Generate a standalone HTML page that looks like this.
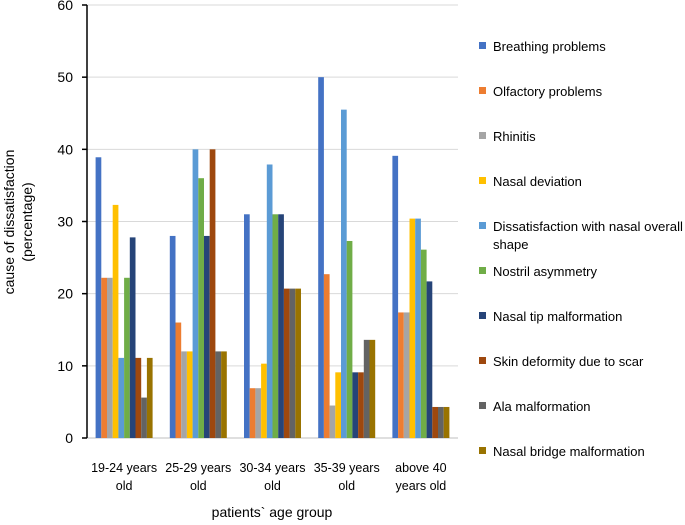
<!DOCTYPE html>
<html><head><meta charset="utf-8"><style>
body{margin:0;background:#fff;font-family:"Liberation Sans",sans-serif;}
svg text{font-family:"Liberation Sans",sans-serif;fill:#000;}
</style></head><body>
<svg id="c" width="685" height="520"></svg>
<script>
const categories=[["19-24 years","old"],["25-29 years","old"],["30-34 years","old"],["35-39 years","old"],["above 40","years old"]];
const seriesNames=["Breathing problems","Olfactory problems","Rhinitis","Nasal deviation","Dissatisfaction with nasal overall shape","Nostril asymmetry","Nasal tip malformation","Skin deformity due to scar","Ala malformation","Nasal bridge malformation"];
const colors=["#4472C4","#ED7D31","#A5A5A5","#FFC000","#5B9BD5","#70AD47","#264478","#9E480E","#636363","#997300"];
const values=[
[38.9,28,31,50,39.1],
[22.2,16,6.9,22.7,17.4],
[22.2,12,6.9,4.5,17.4],
[32.3,12,10.3,9.1,30.4],
[11.1,40,37.9,45.5,30.4],
[22.2,36,31,27.3,26.1],
[27.8,28,31,9.1,21.7],
[11.1,40,20.7,9.1,4.3],
[5.6,12,20.7,13.6,4.3],
[11.1,12,20.7,13.6,4.3]];
const yTicks=[0,10,20,30,40,50,60];
const NS="http://www.w3.org/2000/svg";
const svg=document.getElementById('c');
const x0=87,x1=458,yb=438,yt=5;
const y=v=>yb-(v/60)*(yb-yt);
const gw=(x1-x0)/categories.length,bw=5.7;
function mk(t,a,p){const e=document.createElementNS(NS,t);for(const k in a)e.setAttribute(k,a[k]);(p||svg).appendChild(e);return e;}
yTicks.forEach(t=>{
 const g=mk('line',{x1:x0,x2:x1,y1:y(t),y2:y(t),stroke:t===0?'#bfbfbf':'#d9d9d9','stroke-width':1});
 
 
 const tk=mk('line',{x1:x0-5,x2:x0,y1:y(t),y2:y(t),stroke:'#000','stroke-width':1.5});
 
 
 const l=mk('text',{x:73,y:y(t)+5,'text-anchor':'end','font-size':14});
 l.textContent=t;
 
 
});
const ax=mk('line',{x1:x0,x2:x0,y1:yt,y2:yb,stroke:'#000','stroke-width':1.5});


categories.forEach((c,i)=>{
 const cx=x0+gw*(i+0.5);
 const start=cx-bw*values.length/2;
 values.forEach((s,j)=>{
  const r=mk('rect',{x:start+j*bw,y:y(s[i]),width:bw,height:yb-y(s[i]),fill:colors[j]});
  
  
 });
 c.forEach((ln,k)=>{
  const t=mk('text',{x:cx,y:472+k*18,'text-anchor':'middle','font-size':12.5});
  t.textContent=ln;
  
  
 });
});
const xt=mk('text',{x:272,y:517,'text-anchor':'middle','font-size':14});
xt.textContent='patients` age group';


const yg=mk('g',{transform:'translate(14,222) rotate(-90)'});


['cause of dissatisfaction','(percentage)'].forEach((s,k)=>{const t=mk('text',{x:0,y:k*18,'text-anchor':'middle','font-size':14},yg);t.textContent=s;});
const ly=[46,91,136,181,226,271,316,361,406,451];
seriesNames.forEach((n,j)=>{
 const g=mk('g',{});
 
 
 mk('rect',{x:479,y:ly[j]-4,width:7,height:7,fill:colors[j]},g);
 if(j===4){
  const t=mk('text',{x:493,y:ly[j]+5,'font-size':13,textLength:190,lengthAdjust:'spacingAndGlyphs'},g);t.textContent='Dissatisfaction with nasal overall';
  const t2=mk('text',{x:493,y:ly[j]+23,'font-size':13},g);t2.textContent='shape';
 }else{
  const t=mk('text',{x:493,y:ly[j]+5,'font-size':13},g);t.textContent=n;
 }
});
</script>
</body></html>
